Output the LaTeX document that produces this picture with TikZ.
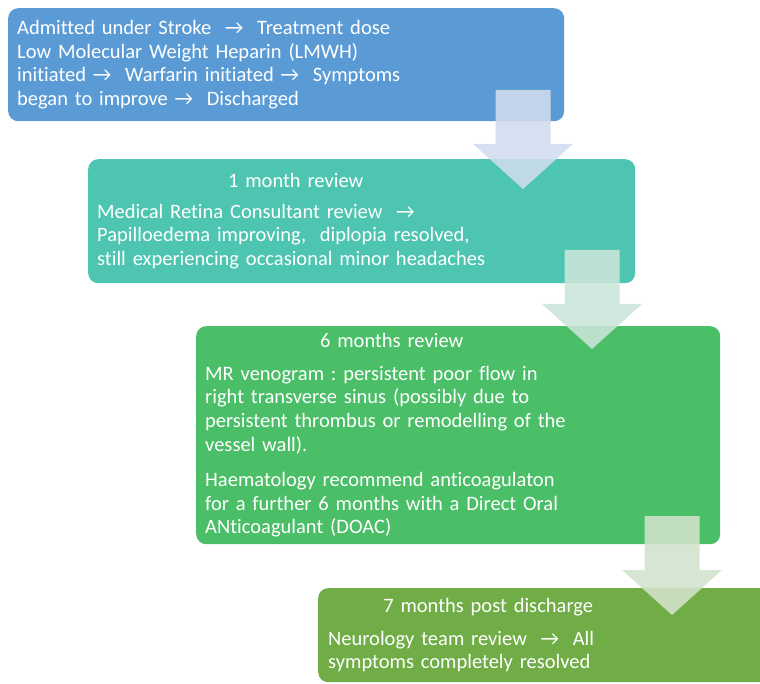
\documentclass[tikz,border=0pt]{standalone}
\usepackage{fontspec}
\setmainfont{Carlito}[Ligatures=NoCommon]
\usepackage{tikz}
\usetikzlibrary{positioning}
\frenchspacing

\definecolor{stepone}{RGB}{91,155,213}
\definecolor{steptwo}{RGB}{77,197,177}
\definecolor{stepthree}{RGB}{75,190,104}
\definecolor{stepfour}{RGB}{112,173,71}
\definecolor{arrowone}{RGB}{208,220,238}
\definecolor{arrowtwo}{RGB}{202,229,217}
\definecolor{arrowthree}{RGB}{210,227,204}

\tikzset{
  stagebox/.style={rounded corners=10pt, inner sep=0pt, text=white, align=left,
    anchor=north west, font=\fontsize{20.5}{23.8}\selectfont},
  flowarrow/.style={opacity=.88}
}

\begin{document}
\begin{tikzpicture}[x=1pt,y=1pt]
    \useasboundingbox (0,0) rectangle (760,-684);
    \clip (0,0) rectangle (760,-684);
    % stages
    \node[stagebox, fill=stepone, text width=538pt, minimum width=556pt, minimum height=113pt] (admit) at (8,-8)
        {Admitted under Stroke \ → \ Treatment dose\\
         Low Molecular Weight Heparin (LMWH)\\
         initiated → \ Warfarin initiated → \ Symptoms\\
         began to improve → \ Discharged};
    \node[stagebox, fill=steptwo, text width=529pt, minimum width=547pt, minimum height=124pt] (month1) at (88,-159)
        {\makebox[397pt]{1 month review}\\[7pt]
         Medical Retina Consultant review \ →\\
         Papilloedema improving, \ diplopia resolved,\\
         still experiencing occasional minor headaches};
    \node[stagebox, fill=stepthree, text width=506pt, minimum width=524pt, minimum height=218pt] (month6) at (196,-326)
        {\makebox[373pt]{6 months review}\\[9pt]
         MR venogram : persistent poor flow in\\
         right transverse sinus (possibly due to\\
         persistent thrombus or remodelling of the\\
         vessel wall).\\[11pt]
         Haematology recommend anticoagulaton\\
         for a further 6 months with a Direct Oral\\
         ANticoagulant (DOAC)};
    \node[stagebox, fill=stepfour, text width=450pt, minimum width=470pt, minimum height=94pt] (month7) at (318,-588)
        {\makebox[320pt]{7 months post discharge}\\[9pt]
         Neurology team review \ → \ All\\
         symptoms completely resolved};
    % block arrows between the stages
    \foreach \x/\y/\c in {523/90/arrowone, 592/250/arrowtwo, 672/516/arrowthree}
        \fill[flowarrow, fill=\c] (\x-27.5,-\y) -- ++(55,0) -- ++(0,-54) -- ++(22.5,0)
            -- (\x,-\y-99) -- (\x-50,-\y-54) -- ++(22.5,0) -- cycle;
\end{tikzpicture}
\end{document}
